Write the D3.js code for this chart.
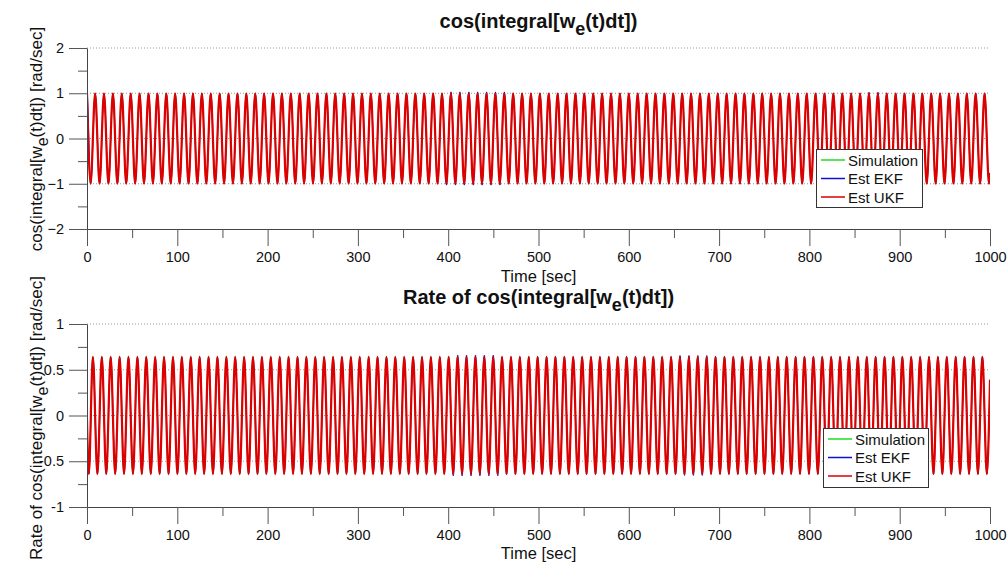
<!DOCTYPE html>
<html>
<head>
<meta charset="utf-8">
<script src="https://cdn.jsdelivr.net/npm/d3@7"></script>
<style>
  body { margin: 0; background: #fff; }
  text { font-family: "Liberation Sans", Arial, sans-serif; fill: #111; }
</style>
</head>
<body>
<svg id="chart" width="1007" height="566"></svg>
<script>
// ---- data ----
// times [sec] of the maxima / minima of cos(integral[we(t)dt])
const cosPeakTimes = [0,
  9.0,18.8,28.7,38.5,48.4,58.2,68.1,77.9,87.8,97.6,
  107.5,117.3,127.2,137.0,146.9,156.7,166.6,176.4,186.3,196.1,
  206.0,215.8,225.7,235.5,245.4,255.2,265.1,274.9,284.8,294.6,
  304.5,314.3,324.2,334.0,343.9,353.7,363.6,373.4,383.3,393.1,
  403.0,412.8,422.7,432.5,442.4,452.2,462.1,471.9,481.8,491.6,
  501.5,511.3,521.2,531.0,540.9,550.7,560.6,570.4,580.3,590.1,
  600.0,609.8,619.7,629.5,639.4,649.2,659.1,668.9,678.8,688.6,
  698.5,708.3,718.2,728.0,737.9,747.7,757.6,767.4,777.3,787.1,
  797.0,806.8,816.7,826.5,836.4,846.2,856.1,865.9,875.8,885.6,
  895.5,905.3,915.2,925.0,934.9,944.7,954.6,964.4,974.3,984.1,
  994.0];
const cosTroughTimes = [4.0,
  13.9,23.7,33.6,43.4,53.3,63.1,73.0,82.8,92.7,102.5,
  112.4,122.2,132.1,141.9,151.8,161.6,171.5,181.3,191.2,201.0,
  210.9,220.7,230.6,240.4,250.3,260.1,270.0,279.8,289.7,299.5,
  309.4,319.2,329.1,338.9,348.8,358.6,368.5,378.3,388.2,398.0,
  407.9,417.7,427.6,437.4,447.3,457.1,467.0,476.8,486.7,496.5,
  506.4,516.2,526.1,535.9,545.8,555.6,565.5,575.3,585.2,595.0,
  604.9,614.7,624.6,634.4,644.3,654.1,664.0,673.8,683.7,693.5,
  703.4,713.2,723.1,732.9,742.8,752.6,762.5,772.3,782.2,792.0,
  801.9,811.7,821.6,831.4,841.3,851.1,861.0,870.8,880.7,890.5,
  900.4,910.2,920.1,929.9,939.8,949.6,959.5,969.3,979.2,989.0,
  998.9];
const cosEnds = [[0, 1.0], [1000, -0.76]];

// times [sec] of the maxima / minima of the rate signal
const ratePeakTimes = [6.5,
  16.4,26.2,36.1,45.9,55.8,65.6,75.5,85.3,95.2,105.0,
  114.9,124.7,134.6,144.4,154.3,164.1,174.0,183.8,193.7,203.5,
  213.4,223.2,233.1,242.9,252.8,262.6,272.5,282.3,292.2,302.0,
  311.9,321.7,331.6,341.4,351.3,361.1,371.0,380.8,390.7,400.5,
  410.4,420.2,430.1,439.9,449.8,459.6,469.5,479.3,489.2,499.0,
  508.9,518.7,528.6,538.4,548.3,558.1,568.0,577.8,587.7,597.5,
  607.4,617.2,627.1,636.9,646.8,656.6,666.5,676.3,686.2,696.0,
  705.9,715.7,725.6,735.4,745.3,755.1,765.0,774.8,784.7,794.5,
  804.4,814.2,824.1,833.9,843.8,853.6,863.5,873.3,883.2,893.0,
  902.9,912.7,922.6,932.4,942.3,952.1,962.0,971.8,981.7,991.5];
const rateTroughTimes = [2.0,
  11.5,21.3,31.2,41.0,50.9,60.7,70.6,80.4,90.3,100.1,
  110.0,119.8,129.7,139.5,149.4,159.2,169.1,178.9,188.8,198.6,
  208.5,218.3,228.2,238.0,247.9,257.7,267.6,277.4,287.3,297.1,
  307.0,316.8,326.7,336.5,346.4,356.2,366.1,375.9,385.8,395.6,
  405.5,415.3,425.2,435.0,444.9,454.7,464.6,474.4,484.3,494.1,
  504.0,513.8,523.7,533.5,543.4,553.2,563.1,572.9,582.8,592.6,
  602.5,612.3,622.2,632.0,641.9,651.7,661.6,671.4,681.3,691.1,
  701.0,710.8,720.7,730.5,740.4,750.2,760.1,769.9,779.8,789.6,
  799.5,809.3,819.2,829.0,838.9,848.7,858.6,868.4,878.3,888.1,
  898.0,907.8,917.7,927.5,937.4,947.2,957.1,966.9,976.8,986.6,
  996.5];
const rateEnds = [[0, -0.05], [1000, 0.39]];

// per series: time lag [sec] and amplitude (amplitude steps as [from time, value])
const seriesNames = ["Simulation", "Est EKF", "Est UKF"];
const seriesLag = [-0.1, 0.15, 0];
const cosAmpSteps = [
  [[0, 1.0]],
  [[0, 0.99], [395, 1.03], [465, 0.995], [860, 1.02], [885, 0.995]],
  [[0, 1.0]]
];
const rateAmpSteps = [
  [[0, 0.64]],
  [[0, 0.635], [405, 0.66], [455, 0.64], [655, 0.655], [690, 0.64]],
  [[0, 0.64]]
];
const seriesColors = ["#22dd22", "#1010d0", "#dd0000"];
const seriesWidths = [1.0, 1.0, 2.2];

const xTicks = d3.range(0, 1001, 100);
const xMinor = d3.range(50, 1000, 100);

// ---- layout ----
const svg = d3.select("#chart");
const x = d3.scaleLinear().domain([0, 1000]).range([87, 990]);

const panels = [
  {
    title: "cos(integral[w", titleRest: "(t)dt])", titleY: 28,
    ylabel: "cos(integral[w", ylabelRest: "(t)dt]) [rad/sec]", ylabelY: 139,
    y: d3.scaleLinear().domain([-2, 2]).range([229, 48]),
    major: [-2, -1, 0, 1, 2], minor: [-1.5, -0.5, 0.5, 1.5], fmt: d3.format("d"),
    peaks: cosPeakTimes, troughs: cosTroughTimes, ends: cosEnds, amps: cosAmpSteps,
    xlabelY: 282, legend: {x: 816, y: 149, w: 106, h: 58}
  },
  {
    title: "Rate of cos(integral[w", titleRest: "(t)dt])", titleY: 304,
    ylabel: "Rate of cos(integral[w", ylabelRest: "(t)dt]) [rad/sec]", ylabelY: 418,
    y: d3.scaleLinear().domain([-1, 1]).range([507, 324]),
    major: [-1, -0.5, 0, 0.5, 1], minor: [-0.75, -0.25, 0.25, 0.75], fmt: d => String(d),
    peaks: ratePeakTimes, troughs: rateTroughTimes, ends: rateEnds, amps: rateAmpSteps,
    xlabelY: 559, legend: {x: 823, y: 428, w: 105, h: 59}
  }
];

function ampAt(steps, t) {
  let a = steps[0][1];
  steps.forEach(s => { if (t >= s[0]) a = s[1]; });
  return a;
}

panels.forEach((p, pi) => {
  const g = svg.append("g");
  const y = p.y;
  const [y0, y1] = y.range();

  // dotted grid lines
  g.selectAll(".grid").data(p.major.slice(1)).enter().append("line")
    .attr("x1", x(0)).attr("x2", x(1000))
    .attr("y1", d => y(d)).attr("y2", d => y(d))
    .attr("stroke", "#999").attr("stroke-dasharray", "1,2");

  // curves
  const clipId = "clip" + pi;
  svg.append("clipPath").attr("id", clipId).append("rect")
    .attr("x", x(0)).attr("y", y1 - 2).attr("width", x(1000) - x(0)).attr("height", y0 - y1 + 2);

  const line = d3.line().x(d => x(d[0])).y(d => y(d[1])).curve(d3.curveMonotoneX);

  seriesNames.forEach((name, si) => {
    const lag = seriesLag[si];
    const pts = [];
    p.peaks.forEach(t => pts.push([t + lag, ampAt(p.amps[si], t)]));
    p.troughs.forEach(t => pts.push([t + lag, -ampAt(p.amps[si], t)]));
    pts.sort((a, b) => a[0] - b[0]);
    if (pts[0][0] > p.ends[0][0]) pts.unshift(p.ends[0]);
    pts.push(p.ends[1]);
    g.append("path").datum(pts)
      .attr("clip-path", `url(#${clipId})`)
      .attr("fill", "none")
      .attr("stroke", seriesColors[si])
      .attr("stroke-width", seriesWidths[si])
      .attr("d", line);
  });

  // y axis
  g.append("g").attr("transform", `translate(${x(0)},0)`)
    .call(d3.axisLeft(y).tickValues(p.major).tickFormat(p.fmt).tickSize(18).tickSizeOuter(0).tickPadding(5));
  g.append("g").attr("transform", `translate(${x(0)},0)`)
    .call(d3.axisLeft(y).tickValues(p.minor).tickFormat("").tickSize(9))
    .select(".domain").remove();

  // x axis
  g.append("g").attr("transform", `translate(0,${y0})`)
    .call(d3.axisBottom(x).tickValues(xTicks).tickFormat(d3.format("d")).tickSize(17).tickSizeOuter(0).tickPadding(6));
  g.append("g").attr("transform", `translate(0,${y0})`)
    .call(d3.axisBottom(x).tickValues(xMinor).tickFormat("").tickSize(9))
    .select(".domain").remove();

  g.selectAll(".domain").attr("stroke", "#444");
  g.selectAll(".tick line").attr("stroke", "#555");
  g.selectAll(".tick text").attr("font-size", 14.5)
    .style("font-family", '"Liberation Sans", Arial, sans-serif').attr("fill", "#111");

  // title
  const tt = g.append("text").attr("x", (x(0) + x(1000)) / 2).attr("y", p.titleY)
    .attr("text-anchor", "middle").attr("font-size", 20).attr("font-weight", "bold");
  tt.append("tspan").text(p.title);
  tt.append("tspan").attr("dy", 7).attr("font-size", 18).text("e");
  tt.append("tspan").attr("dy", -7).text(p.titleRest);

  // x label
  g.append("text").attr("x", (x(0) + x(1000)) / 2).attr("y", p.xlabelY)
    .attr("text-anchor", "middle").attr("font-size", 16.5).text("Time [sec]");

  // y label
  const yl = g.append("text").attr("transform", `translate(42,${p.ylabelY}) rotate(-90)`)
    .attr("text-anchor", "middle").attr("font-size", 17);
  yl.append("tspan").text(p.ylabel);
  yl.append("tspan").attr("dy", 6).attr("font-size", 16).text("e");
  yl.append("tspan").attr("dy", -6).text(p.ylabelRest);

  // legend
  const L = p.legend;
  const lg = g.append("g").attr("transform", `translate(${L.x},${L.y})`);
  lg.append("rect").attr("x", 0.5).attr("y", 0.5).attr("width", L.w).attr("height", L.h)
    .attr("fill", "#fff").attr("stroke", "#333");
  seriesNames.forEach((name, si) => {
    const ry = 11 + si * 18.5;
    lg.append("line").attr("x1", 5).attr("x2", 29).attr("y1", ry).attr("y2", ry)
      .attr("stroke", seriesColors[si]).attr("stroke-width", 1.5);
    lg.append("text").attr("x", 32).attr("y", ry + 5.5).attr("font-size", 15).text(name);
  });
});
</script>
</body>
</html>
